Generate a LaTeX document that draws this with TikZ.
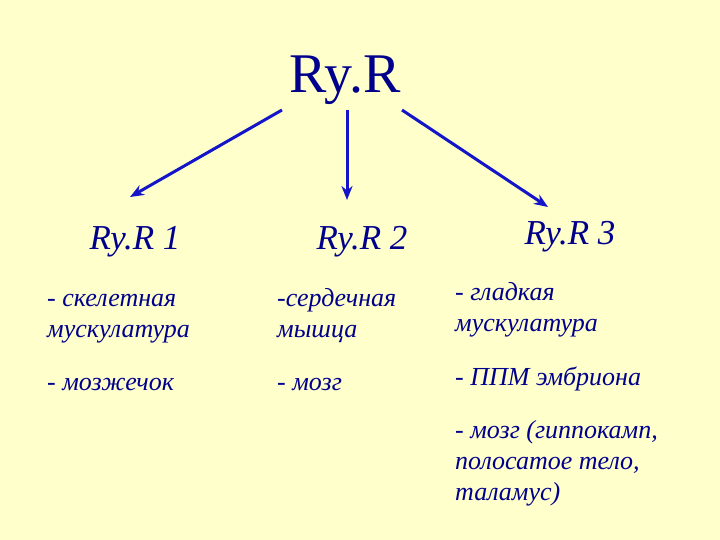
\documentclass[tikz,border=0pt]{standalone}
\usepackage{fontspec}
\usetikzlibrary{arrows.meta}
\setmainfont{Liberation Serif}
\definecolor{bg}{RGB}{255,255,204}
\definecolor{ink}{RGB}{0,0,140}
\definecolor{arr}{RGB}{20,20,200}
\begin{document}
\begin{tikzpicture}[x=1pt,y=-1pt,
  txt/.style={anchor=base west,text=ink,font=\fontsize{26}{31}\selectfont\itshape,align=left,inner sep=0},
  lab/.style={text=ink,font=\fontsize{35}{40}\selectfont\itshape,inner sep=0},
  link/.style={draw=arr,line width=3pt,-{Stealth[length=14pt,width=11pt]}}]
\fill[bg] (0,0) rectangle (720,540);
\useasboundingbox (0,0) rectangle (720,540);
\node[text=ink,font=\fontsize{56}{60}\selectfont,inner sep=0] (top) at (345,80) {Ry.R};
\coordinate (s1) at (282,110); \coordinate (e1) at (130,197);
\coordinate (s2) at (347,110); \coordinate (e2) at (347,200);
\coordinate (s3) at (402,110); \coordinate (e3) at (548,207);
\draw[link] (s1) -- (e1);
\draw[link] (s2) -- (e2);
\draw[link] (s3) -- (e3);
\node[lab] (r1) at (135,242) {Ry.R 1};
\node[lab] (r2) at (362,242) {Ry.R 2};
\node[lab] (r3) at (570,237) {Ry.R 3};
\node[txt] (a1) at (47,337) {- скелетная\\мускулатура};
\node[txt] (a2) at (47,390) {- мозжечок};
\node[txt] (b1) at (277,337) {-сердечная\\мышца};
\node[txt] (b2) at (277,390) {- мозг};
\node[txt] (c1) at (455,331) {- гладкая\\мускулатура};
\node[txt] (c2) at (455,385) {- ППМ эмбриона};
\node[txt] (c3) at (455,500) {- мозг (гиппокамп,\\полосатое тело,\\таламус)};
\end{tikzpicture}
\end{document}
